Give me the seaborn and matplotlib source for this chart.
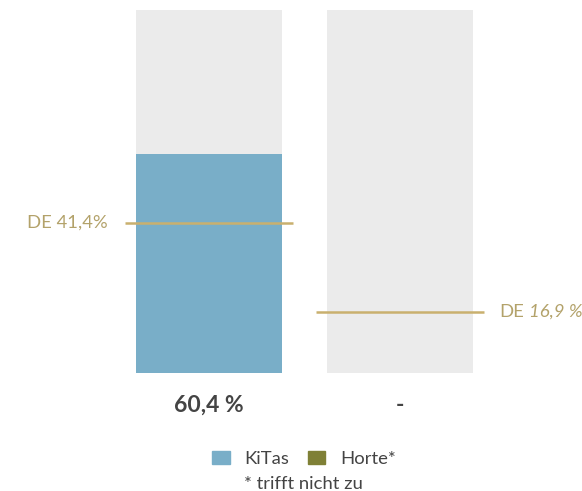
import numpy as np
import pandas as pd
import matplotlib
matplotlib.use("Agg")
import matplotlib.pyplot as plt
import matplotlib.patches as mpatches
import seaborn as sns

# data
categories = ["KiTas", "Horte"]
values = [60.4, np.nan]          # Horte: trifft nicht zu
de_values = [41.4, 16.9]
value_labels = ["60,4 %", "-"]
de_numbers = ["41,4%", "16,9 %"]
full = [100, 100]

sns.set_theme(style="white")
plt.rcParams["font.family"] = ["Lato", "DejaVu Sans"]

col_bar = "#79aec8"
col_horte = "#7f8036"
col_bg = "#ebebeb"
col_de = "#c9b06e"
col_de_txt = "#b3a26a"

df = pd.DataFrame({"cat": categories, "value": values, "full": full})

fig = plt.figure(figsize=(5.82, 4.91), dpi=100)
ax = fig.add_axes([0, 118 / 491, 1, 363 / 491])

sns.barplot(data=df, x="cat", y="full", color=col_bg, width=0.764,
            saturation=1, linewidth=0, ax=ax)
sns.barplot(data=df, x="cat", y="value", color=col_bar, width=0.764,
            saturation=1, linewidth=0, ax=ax)

ax.set_xlim(-1.094, 1.953)
ax.set_ylim(0, 100)
ax.axis("off")

# DE reference lines
half = 0.44
for i, v in enumerate(de_values):
    ax.hlines(v, i - half, i + half, color=col_de, lw=1.8, zorder=5)

fs_de = 13.3
ax.text(-0.528, de_values[0], "DE " + de_numbers[0], ha="right", va="center",
        color=col_de_txt, fontsize=fs_de)
t = ax.text(1.518, de_values[1], "DE", ha="left", va="center",
            color=col_de_txt, fontsize=fs_de)
ax.annotate(de_numbers[1], xy=(1, 0), xycoords=t, xytext=(3.5, 0),
            textcoords="offset points", ha="left", va="bottom",
            color=col_de_txt, fontsize=fs_de, style="italic")

# value labels below bars
for i, lab in enumerate(value_labels):
    ax.text(i, -9, lab, ha="center", va="center", fontsize=16.5,
            fontweight="bold", color="#444444")

handles = [mpatches.Patch(color=col_bar, label="KiTas"),
           mpatches.Patch(color=col_horte, label="Horte*")]
fig.legend(handles=handles, loc="center", bbox_to_anchor=(304 / 582, 1 - 459 / 491),
           ncol=2, frameon=False, fontsize=13.3, handlelength=0.95, handleheight=0.7,
           handletextpad=0.8, columnspacing=1.0, labelcolor="#444444")
fig.text(303 / 582, 1 - 484 / 491, "* trifft nicht zu", ha="center", va="center",
         fontsize=13.3, color="#444444")

fig.savefig("out.png", dpi=100)
